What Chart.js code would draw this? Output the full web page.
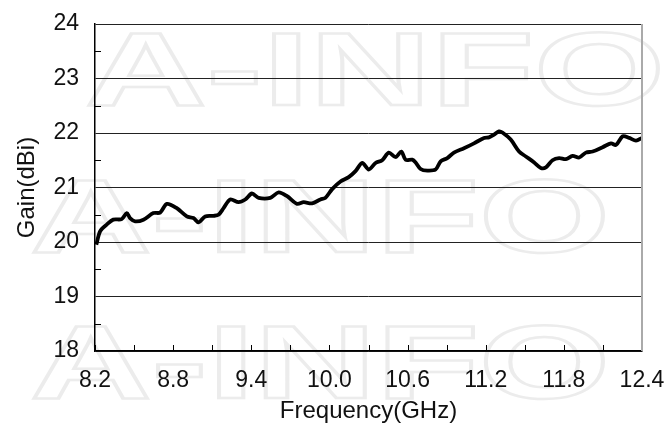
<!DOCTYPE html>
<html>
<head>
<meta charset="utf-8">
<script src="https://cdn.jsdelivr.net/npm/chart.js@4"></script>
<style>
  html, body { margin: 0; padding: 0; background: #fff; }
  #wrap { width: 672px; height: 438px; }
</style>
</head>
<body>
<div id="wrap"><canvas id="chart" width="672" height="438"></canvas></div>
<script>
// frequency (GHz) and gain (dBi)
const freq = [
  8.21, 8.24, 8.29, 8.34, 8.405, 8.444, 8.469, 8.508, 8.572, 8.648,
  8.70, 8.752, 8.828, 8.905, 8.956, 8.995, 9.046, 9.11, 9.148, 9.187,
  9.238, 9.302, 9.354, 9.405, 9.456, 9.546, 9.61, 9.675, 9.752, 9.802,
  9.867, 9.931, 9.969, 10.021, 10.085, 10.148, 10.2, 10.252, 10.302, 10.354,
  10.405, 10.456, 10.508, 10.552, 10.585, 10.636, 10.662, 10.70, 10.752, 10.815,
  10.854, 10.905, 10.956, 11.033, 11.11, 11.187, 11.225, 11.264, 11.302, 11.328,
  11.392, 11.456, 11.508, 11.572, 11.623, 11.662, 11.713, 11.764, 11.815, 11.867,
  11.918, 11.969, 12.021, 12.098, 12.162, 12.2, 12.252, 12.302, 12.354, 12.4
];
const gain = [
  19.95, 20.2, 20.32, 20.41, 20.42, 20.53, 20.44, 20.38, 20.41, 20.53,
  20.54, 20.70, 20.62, 20.47, 20.44, 20.36, 20.47, 20.48, 20.50, 20.62,
  20.78, 20.73, 20.78, 20.89, 20.81, 20.81, 20.91, 20.84, 20.70, 20.73,
  20.71, 20.78, 20.81, 20.97, 21.11, 21.19, 21.30, 21.45, 21.33, 21.45,
  21.50, 21.64, 21.56, 21.66, 21.51, 21.51, 21.46, 21.34, 21.31, 21.33,
  21.48, 21.54, 21.64, 21.72, 21.81, 21.91, 21.92, 21.97, 22.03, 22.01,
  21.88, 21.66, 21.57, 21.46, 21.36, 21.37, 21.50, 21.54, 21.52, 21.58,
  21.55, 21.64, 21.66, 21.74, 21.81, 21.78, 21.94, 21.91, 21.86, 21.91
];
const xTicks = [8.2, 8.8, 9.4, 10.0, 10.6, 11.2, 11.8, 12.4];
const yTicks = [18, 19, 20, 21, 22, 23, 24];

const points = freq.map((f, i) => ({ x: f, y: gain[i] }));
const font = "'Liberation Sans', Arial, sans-serif";

// faint "A-INFO" watermark behind the plot, stretched wide like the original
const watermark = {
  id: "watermark",
  beforeDraw(chart) {
    const ctx = chart.ctx;
    ctx.save();
    ctx.font = "bold 104px " + font;
    const w = ctx.measureText("A-INFO").width;
    ctx.strokeStyle = "#ececec";
    ctx.lineWidth = 2.5;
    [[85, 105], [30, 252], [30, 398]].forEach(([x, y]) => {
      ctx.save();
      ctx.translate(x, y);
      ctx.scale(580 / w, 1);
      ctx.strokeText("A-INFO", 0, 0);
      ctx.restore();
    });
    ctx.restore();
  }
};

// inward tick marks and the grey right border
const frame = {
  id: "frame",
  afterDraw(chart) {
    const ctx = chart.ctx;
    const xs = chart.scales.x;
    const ys = chart.scales.y;
    const a = chart.chartArea;
    ctx.save();
    ctx.strokeStyle = "#000";
    ctx.lineWidth = 1;
    ctx.beginPath();
    for (let v = 8.2; v <= 12.41; v += 0.3) {
      const px = Math.round(xs.getPixelForValue(v)) + 0.5;
      ctx.moveTo(px, a.bottom);
      ctx.lineTo(px, a.bottom - 6);
    }
    for (let v = 18.5; v < 24; v += 1) {
      const py = Math.round(ys.getPixelForValue(v)) + 0.5;
      ctx.moveTo(a.left, py);
      ctx.lineTo(a.left + 6, py);
    }
    ctx.stroke();
    ctx.strokeStyle = "#aaa";
    ctx.lineWidth = 2;
    ctx.beginPath();
    ctx.moveTo(a.right, a.top);
    ctx.lineTo(a.right, a.bottom);
    ctx.stroke();
    ctx.restore();
  }
};

new Chart(document.getElementById("chart"), {
  type: "line",
  data: {
    datasets: [{
      data: points,
      borderColor: "#000",
      borderWidth: 3.8,
      pointRadius: 0,
      tension: 0.3,
      fill: false
    }]
  },
  options: {
    responsive: false,
    animation: false,
    events: [],
    layout: { padding: { top: 24, right: 30, left: 0, bottom: 0 } },
    plugins: { legend: { display: false }, tooltip: { enabled: false } },
    scales: {
      x: {
        type: "linear",
        min: 8.2,
        max: 12.4,
        afterBuildTicks: (s) => { s.ticks = xTicks.map((v) => ({ value: v })); },
        afterFit: (s) => {
          s.height = 87;
          s.paddingLeft = 0;
          s.paddingRight = 0;
        },
        grid: { display: false, drawTicks: false },
        border: { display: true, color: "#000", width: 1.5 },
        ticks: {
          padding: 16,
          color: "#111",
          font: { family: font, size: 23 },
          maxRotation: 0,
          callback: (v) => v.toFixed(1)
        },
        title: {
          display: true,
          text: "Frequency(GHz)",
          color: "#111",
          font: { family: font, size: 24 },
          padding: { top: 0, bottom: 12 }
        }
      },
      y: {
        min: 18,
        max: 24,
        afterBuildTicks: (s) => { s.ticks = yTicks.map((v) => ({ value: v })); },
        afterFit: (s) => {
          s.width = 95;
          s.paddingTop = 0;
          s.paddingBottom = 0;
        },
        grid: { color: "#222", lineWidth: 1, drawTicks: false },
        border: { display: true, color: "#000", width: 1.5 },
        ticks: {
          padding: 16,
          color: "#111",
          font: { family: font, size: 23 }
        },
        title: {
          display: true,
          text: "Gain(dBi)",
          color: "#111",
          font: { family: font, size: 24 },
          padding: { top: 13, bottom: 0 }
        }
      }
    }
  },
  plugins: [watermark, frame]
});
</script>
</body>
</html>
